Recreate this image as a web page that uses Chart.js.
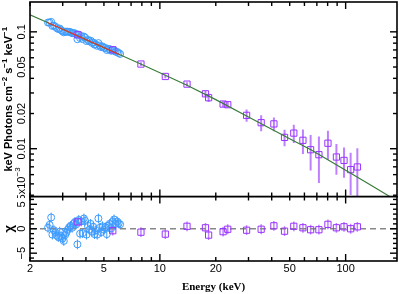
<!DOCTYPE html>
<html>
<head>
<meta charset="utf-8">
<script src="https://cdn.jsdelivr.net/npm/chart.js@4/dist/chart.umd.min.js"></script>
<style>
  html, body { margin: 0; padding: 0; background: #fff; }
  #wrap { position: relative; width: 399px; height: 294px; }
  canvas { position: absolute; left: 0; }
  #spec { top: 0; }
  #resid { top: 196px; }
</style>
</head>
<body>
<div id="wrap">
  <canvas id="spec" width="399" height="198"></canvas>
  <canvas id="resid" width="399" height="98"></canvas>
</div>
<script>
// ─── Data ────────────────────────────────────────────────────────────────────
const BLUE_E = [2.50, 2.55, 2.60, 2.64, 2.69, 2.74, 2.79, 2.84, 2.89, 2.94, 2.99, 3.04, 3.09, 3.14,
  3.19, 3.25, 3.31, 3.37, 3.43, 3.49, 3.55, 3.60, 3.66, 3.72, 3.78, 3.84, 3.90, 3.96, 4.03, 4.10,
  4.17, 4.24, 4.31, 4.38, 4.45, 4.52, 4.60, 4.67, 4.75, 4.83, 4.91, 5.00, 5.09, 5.18, 5.27, 5.37,
  5.47, 5.57, 5.67, 5.78, 5.89, 6.00, 6.11];
const BLUE_FLUX = [0.1201, 0.1198, 0.1217, 0.1123, 0.1129, 0.1105, 0.1076, 0.1056, 0.1067, 0.1035,
  0.1012, 0.0990, 0.1003, 0.1002, 0.1003, 0.1000, 0.0993, 0.0973, 0.0976, 0.0971, 0.0951, 0.0865,
  0.0947, 0.0885, 0.0920, 0.0867, 0.0911, 0.0892, 0.0834, 0.0853, 0.0830, 0.0840, 0.0804, 0.0811,
  0.0778, 0.0782, 0.0759, 0.0801, 0.0763, 0.0740, 0.0750, 0.0730, 0.0728, 0.0699, 0.0714, 0.0711,
  0.0689, 0.0698, 0.0697, 0.0675, 0.0673, 0.0659, 0.0647];
const BLUE_CHI = [0.2, 0.8, 2.3, -1.2, -0.3, -0.7, -1.4, -1.7, -0.6, -1.5, -2.0, -2.5, -1.3, -0.8,
  -0.2, 0.3, 0.6, 0.2, 1.0, 1.4, 0.9, -3.2, 1.8, -1.0, 1.5, -0.9, 2.1, 1.6, -1.2, 0.6, -0.2, 1.0,
  -0.6, 0.4, -1.1, -0.3, -1.2, 2.1, 0.2, -0.7, 0.5, -0.2, 0.3, -1.1, 0.6, 1.0, 0.1, 1.4, 1.9, 1.0,
  1.5, 1.1, 0.9];

const PURPLE_E = [3.62, 5.58, 7.91, 10.7, 14.0, 17.6, 18.3, 21.9, 23.2, 29.3, 35.1, 41.1, 46.9,
  52.6, 58.9, 64.8, 71.8, 80.3, 89.2, 98.0, 106.4, 115.6];
const PURPLE_FLUX = [0.0943, 0.0702, 0.0530, 0.0415, 0.0357, 0.0295, 0.0273, 0.0241, 0.0238,
  0.0193, 0.0167, 0.0163, 0.0125, 0.0136, 0.0118, 0.00980, 0.00889, 0.01114, 0.00849, 0.00794,
  0.00662, 0.00698];
const PURPLE_ERR = [0.0020, 0.0015, 0.0020, 0.0015, 0.0014, 0.0017, 0.0022, 0.0014, 0.0014,
  0.0023, 0.0026, 0.0022, 0.0020, 0.0024, 0.0028, 0.0033, 0.0038, 0.0031, 0.0025, 0.0023,
  0.0026, 0.0031];
const PURPLE_CHI = [1.4, -0.4, -0.7, -1.1, 0.5, 0.2, -1.3, -0.6, -0.1, -0.3, -0.1, 0.6, -0.5,
  0.5, 0.2, -0.2, -0.2, 0.9, 0.2, 0.4, 0.0, 0.4];
const CHI_ERR = 1; // residuals are in units of sigma

const MODEL_E = [2, 2.5, 3, 4, 5, 6.1, 8, 10, 14, 20, 30, 50, 65, 100, 130, 170, 189];
const MODEL_FLUX = [0.140, 0.1196, 0.1052, 0.0858, 0.0733, 0.0636, 0.0525, 0.0446, 0.0349,
  0.0263, 0.0187, 0.01217, 0.0098, 0.00653, 0.00511, 0.00396, 0.00357];

// ─── Axes / ticks ────────────────────────────────────────────────────────────
const X_MIN = 2, X_MAX = 189;
const X_TICKS = [2, 3, 4, 5, 6, 7, 8, 9, 10, 20, 30, 40, 50, 60, 70, 80, 90, 100];
const X_MAJOR = [10, 100];
const X_LABELS = ['2', '5', '10', '20', '50', '100'];
const X_LABEL_VALUES = [2, 5, 10, 20, 50, 100];

const SPEC_MIN = 0.0039, SPEC_MAX = 0.18;
const SPEC_TICKS = [0.004, 0.005, 0.006, 0.007, 0.008, 0.009, 0.01, 0.02, 0.03, 0.04, 0.05, 0.06,
  0.07, 0.08, 0.09, 0.1];
const SPEC_MAJOR = [0.01, 0.1];
const SPEC_LABELS = ['0.1', '0.05', '0.02', '0.01', '5x10^−3'];
const SPEC_LABEL_VALUES = [0.1, 0.05, 0.02, 0.01, 0.005];

const CHI_MIN = -6.6, CHI_MAX = 6.6;
const CHI_TICKS = [-6, -5, -4, -3, -2, -1, 0, 1, 2, 3, 4, 5, 6];
const CHI_MAJOR = [-5, 0, 5];
const CHI_LABELS = ['5', '0', '−5'];
const CHI_LABEL_VALUES = [5, 0, -5];

const BLUE = '#3d9bff';
const PURPLE = '#9933ff';
const PURPLE_BAR = '#bf80ff';
const GREEN = '#3a7d3a';
const RED = '#ff2a2a';
const SANS = '"Liberation Sans", Arial, sans-serif';
const SERIF = '"Liberation Serif", "Times New Roman", serif';

const pts = (xs, ys) => xs.map((x, i) => ({ x, y: ys[i] }));

// ─── Drawing helpers ─────────────────────────────────────────────────────────
// '^' toggles superscript; text is drawn rotated to read bottom-to-top
function drawRotated(ctx, text, cx, cy, size, bold) {
  const parts = text.split('^');
  const font = sup => `${bold ? 'bold ' : ''}${sup ? Math.round(size * 0.7) : size}px ${SANS}`;
  let w = 0;
  parts.forEach((p, i) => { ctx.font = font(i % 2); w += ctx.measureText(p).width; });
  ctx.save();
  ctx.translate(cx, cy);
  ctx.rotate(-Math.PI / 2);
  ctx.textBaseline = 'middle';
  ctx.textAlign = 'left';
  let x0 = -w / 2;
  parts.forEach((p, i) => {
    ctx.font = font(i % 2);
    ctx.fillText(p, x0, i % 2 ? -size * 0.4 : 0);
    x0 += ctx.measureText(p).width;
  });
  ctx.restore();
}

const errorBars = {
  id: 'errorBars',
  beforeDatasetsDraw(chart) {
    const { ctx, chartArea: a, scales: { x, y } } = chart;
    ctx.save();
    ctx.beginPath();
    ctx.rect(a.left, a.top, a.right - a.left, a.bottom - a.top);
    ctx.clip();
    for (const ds of chart.data.datasets) {
      if (!ds.yErr) continue;
      ctx.strokeStyle = ds.errColor;
      ctx.lineWidth = ds.errWidth || 1;
      ds.data.forEach((p, i) => {
        const e = ds.yErr[i];
        const lo = p.y - e;
        const px = x.getPixelForValue(p.x);
        const y0 = (y.type === 'logarithmic' && lo <= 0) ? a.bottom + 5 : y.getPixelForValue(lo);
        const y1 = y.getPixelForValue(p.y + e);
        ctx.beginPath();
        ctx.moveTo(px, y0);
        ctx.lineTo(px, y1);
        ctx.stroke();
      });
    }
    ctx.restore();
  },
};

const frame = {
  id: 'frame',
  afterDraw(chart, args, o) {
    const { ctx, chartArea: a, scales: { x, y } } = chart;
    const line = (x0, y0, x1, y1) => { ctx.beginPath(); ctx.moveTo(x0, y0); ctx.lineTo(x1, y1); ctx.stroke(); };
    ctx.save();
    ctx.strokeStyle = '#000';
    ctx.lineWidth = 1.4;
    for (const v of X_TICKS) {
      const px = x.getPixelForValue(v);
      const len = X_MAJOR.includes(v) ? 7 : 4;
      line(px, a.bottom, px, a.bottom - len);
      line(px, a.top, px, a.top + len);
    }
    for (const v of o.yTicks) {
      const py = y.getPixelForValue(v);
      const len = o.yMajor.includes(v) ? 7 : 4;
      line(a.left, py, a.left + len, py);
      line(a.right, py, a.right - len, py);
    }
    ctx.lineWidth = 1.6;
    ctx.strokeRect(a.left, a.top, a.right - a.left, a.bottom - a.top);

    ctx.fillStyle = '#000';
    o.yLabels.forEach((lab, i) => drawRotated(ctx, lab, 22, y.getPixelForValue(o.yLabelValues[i]), 11, false));
    drawRotated(ctx, o.yTitle, 9, (a.top + a.bottom) / 2, o.yTitleSize, true);

    if (o.xLabels) {
      ctx.font = `11px ${SANS}`;
      ctx.textAlign = 'center';
      ctx.textBaseline = 'middle';
      X_LABELS.forEach((lab, i) => ctx.fillText(lab, x.getPixelForValue(X_LABEL_VALUES[i]), a.bottom + 8));
      ctx.font = `bold 11px ${SERIF}`;
      ctx.fillText('Energy (keV)', (a.left + a.right) / 2, a.bottom + 26);
    }
    ctx.restore();
  },
};

const baseOptions = (padding, yScale, frameOpts) => ({
  responsive: false,
  animation: false,
  devicePixelRatio: 1,
  layout: { padding, autoPadding: false },
  scales: {
    x: { type: 'logarithmic', min: X_MIN, max: X_MAX, display: false },
    y: { ...yScale, display: false },
  },
  plugins: { legend: { display: false }, tooltip: { enabled: false }, frame: frameOpts },
});

// ─── Spectrum panel ──────────────────────────────────────────────────────────
const modelPts = pts(MODEL_E, MODEL_FLUX);
new Chart(document.getElementById('spec'), {
  type: 'scatter',
  data: {
    datasets: [
      { data: modelPts.filter(p => p.x >= 2.5 && p.x <= 6.1), showLine: true, borderColor: RED,
        borderWidth: 1, pointRadius: 0 },
      { data: modelPts, showLine: true, borderColor: GREEN, borderWidth: 1.2, pointRadius: 0 },
      { data: pts(PURPLE_E, PURPLE_FLUX), yErr: PURPLE_ERR, errColor: PURPLE_BAR, errWidth: 2,
        pointStyle: 'rect', pointRadius: 4.4, borderColor: PURPLE, backgroundColor: 'rgba(0,0,0,0)',
        borderWidth: 1 },
      { data: pts(BLUE_E, BLUE_FLUX), pointStyle: 'circle', pointRadius: 3.5, borderColor: BLUE,
        backgroundColor: 'rgba(0,0,0,0)', borderWidth: 1 },
    ],
  },
  options: baseOptions({ left: 30, right: 2, top: 2, bottom: 1.5 },
    { type: 'logarithmic', min: SPEC_MIN, max: SPEC_MAX },
    { yTicks: SPEC_TICKS, yMajor: SPEC_MAJOR, yLabels: SPEC_LABELS, yLabelValues: SPEC_LABEL_VALUES,
      yTitle: 'keV Photons cm^−2^ s^−1^ keV^−1', yTitleSize: 11, xLabels: false }),
  plugins: [errorBars, frame],
});

// ─── Residual panel ──────────────────────────────────────────────────────────
new Chart(document.getElementById('resid'), {
  type: 'scatter',
  data: {
    datasets: [
      { data: pts(PURPLE_E, PURPLE_CHI), yErr: PURPLE_CHI.map(() => CHI_ERR), errColor: PURPLE_BAR,
        errWidth: 1.5, pointStyle: 'rect', pointRadius: 4.4, borderColor: PURPLE,
        backgroundColor: 'rgba(0,0,0,0)', borderWidth: 1 },
      { data: pts(BLUE_E, BLUE_CHI), yErr: BLUE_CHI.map(() => CHI_ERR), errColor: BLUE, errWidth: 1,
        pointStyle: 'circle', pointRadius: 3.5, borderColor: BLUE, backgroundColor: 'rgba(0,0,0,0)',
        borderWidth: 1 },
      { data: [{ x: X_MIN, y: 0 }, { x: X_MAX, y: 0 }], showLine: true, borderColor: '#888',
        borderWidth: 1.5, borderDash: [6, 4], pointRadius: 0 },
    ],
  },
  options: baseOptions({ left: 30, right: 2, top: 0.5, bottom: 33 },
    { type: 'linear', min: CHI_MIN, max: CHI_MAX },
    { yTicks: CHI_TICKS, yMajor: CHI_MAJOR, yLabels: CHI_LABELS, yLabelValues: CHI_LABEL_VALUES,
      yTitle: 'χ', yTitleSize: 13, xLabels: true }),
  plugins: [errorBars, frame],
});
</script>
</body>
</html>
